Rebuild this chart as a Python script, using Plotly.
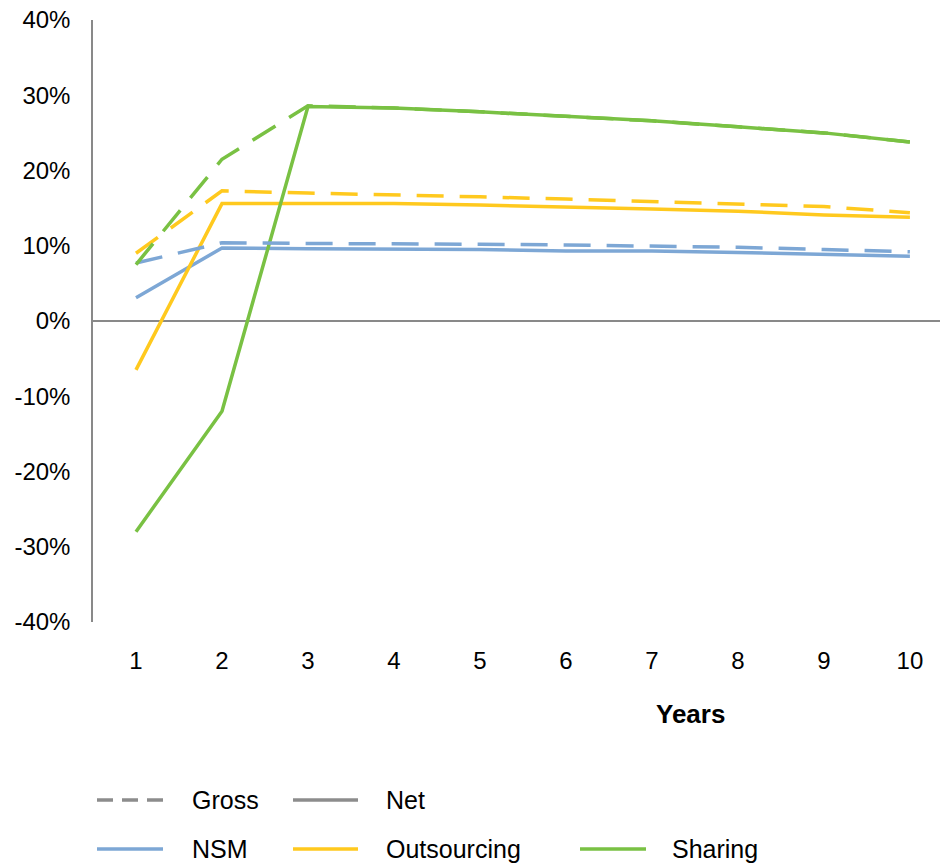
import plotly.graph_objects as go

years = [1, 2, 3, 4, 5, 6, 7, 8, 9, 10]
year_labels = ["1", "2", "3", "4", "5", "6", "7", "8", "9", "10"]

nsm_net = [0.031, 0.097, 0.096, 0.096, 0.095, 0.093, 0.093, 0.091, 0.088, 0.086]
nsm_gross = [0.077, 0.104, 0.103, 0.103, 0.102, 0.101, 0.100, 0.098, 0.095, 0.092]
out_net = [-0.065, 0.156, 0.156, 0.156, 0.154, 0.152, 0.149, 0.146, 0.141, 0.138]
out_gross = [0.090, 0.173, 0.170, 0.168, 0.165, 0.162, 0.159, 0.156, 0.152, 0.144]
sh_net = [-0.280, -0.120, 0.285, 0.283, 0.278, 0.272, 0.266, 0.258, 0.250, 0.238]
sh_gross = [0.075, 0.215, 0.286, 0.283, 0.278, 0.272, 0.266, 0.258, 0.250, 0.238]

y_ticks = [-0.4, -0.3, -0.2, -0.1, 0, 0.1, 0.2, 0.3, 0.4]
y_tick_labels = ["-40%", "-30%", "-20%", "-10%", "0%", "10%", "20%", "30%", "40%"]

BLUE = "#7DA7D5"
YELLOW = "#FFC91E"
GREEN = "#79C143"
GRAY = "#8C8C8C"
DASH = "27px,16px"
FONT = "Liberation Sans, Arial, sans-serif"

fig = go.Figure()
series = [
    ("NSM", nsm_net, nsm_gross, BLUE),
    ("Outsourcing", out_net, out_gross, YELLOW),
    ("Sharing", sh_net, sh_gross, GREEN),
]
for name, net, gross, col in series:
    fig.add_trace(go.Scatter(x=years, y=net, mode="lines", name=name + " Net",
                             line=dict(color=col, width=3.5), showlegend=False))
for name, net, gross, col in series:
    fig.add_trace(go.Scatter(x=years, y=gross, mode="lines", name=name + " Gross",
                             line=dict(color=col, width=3.5, dash=DASH), showlegend=False))

W, H = 940, 865
L, T, B = 93, 20, 243
PW, PH = W - L, H - T - B


def px(x):
    return (x - L) / PW


def py(y):
    return (H - B - y) / PH


legend_items = [
    ("Gross", GRAY, "16px,9px", 97, 163, 190, 800),
    ("Net", GRAY, "solid", 293, 358, 384, 800),
    ("NSM", BLUE, "solid", 97, 163, 190, 849),
    ("Outsourcing", YELLOW, "solid", 293, 358, 384, 849),
    ("Sharing", GREEN, "solid", 580, 646, 670, 849),
]
shapes = []
annotations = []
for label, col, dash, x0, x1, tx, yy in legend_items:
    shapes.append(dict(type="line", xref="paper", yref="paper",
                       x0=px(x0), x1=px(x1), y0=py(yy), y1=py(yy),
                       line=dict(color=col, width=3.5, dash=dash)))
    annotations.append(dict(text=label, xref="paper", yref="paper",
                            x=px(tx), y=py(yy), xanchor="left", yanchor="middle",
                            showarrow=False, font=dict(size=25, color="#000000", family=FONT)))

annotations.append(dict(text="<b>Years</b>", xref="paper", yref="paper",
                        x=px(690), y=py(714), xanchor="center", yanchor="middle",
                        showarrow=False, font=dict(size=26, color="#000000", family=FONT)))

fig.update_layout(
    width=W, height=H,
    margin=dict(l=L, r=0, t=T, b=B),
    paper_bgcolor="white", plot_bgcolor="white",
    font=dict(family=FONT, size=24, color="#000000"),
    shapes=shapes, annotations=annotations,
    showlegend=False,
)
fig.update_xaxes(range=[0.5, 10.35], tickvals=years, ticktext=year_labels,
                 showgrid=False, zeroline=False, showline=False,
                 ticks="", ticklabelstandoff=22,
                 tickfont=dict(size=24, family=FONT, color="#000000"))
fig.update_yaxes(range=[-0.4, 0.4], tickvals=y_ticks, ticktext=y_tick_labels,
                 showgrid=False, zeroline=True, zerolinecolor="#898989", zerolinewidth=1.5,
                 showline=True, linecolor="#898989", linewidth=1.5,
                 ticks="", ticklabelstandoff=16,
                 tickfont=dict(size=24, family=FONT, color="#000000"))

fig.write_html("out.html", config={"displayModeBar": False},
               post_script="document.body.style.margin='0';document.body.style.overflow='hidden';")
